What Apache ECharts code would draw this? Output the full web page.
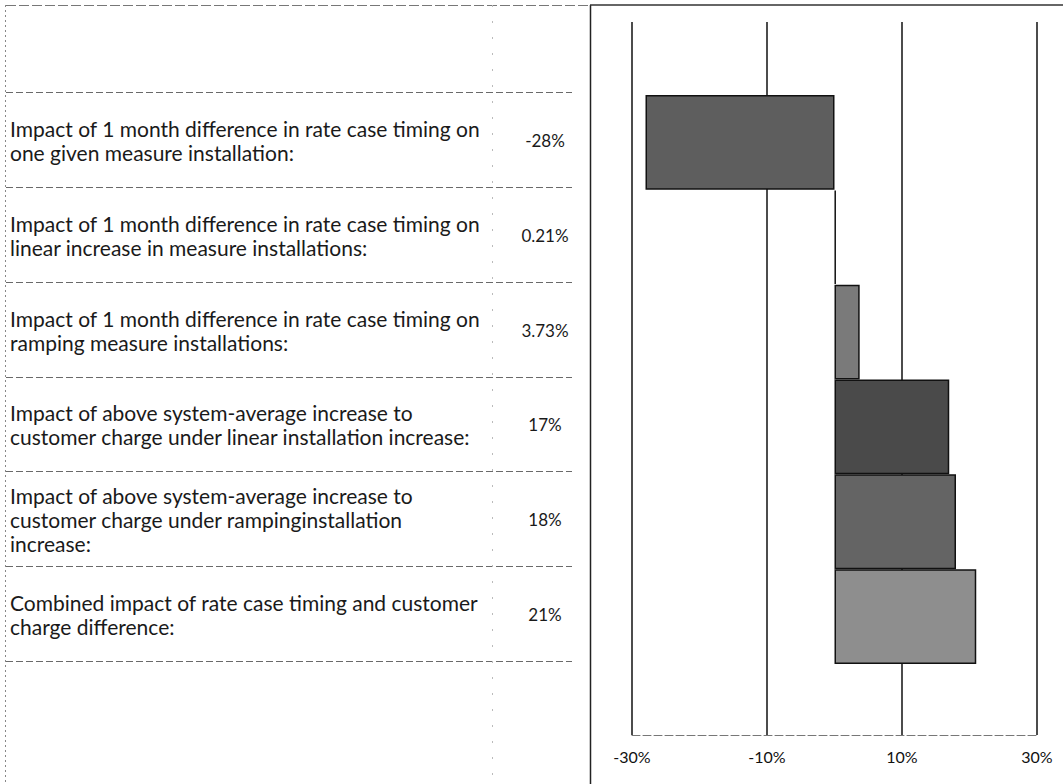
<!DOCTYPE html>
<html>
<head>
<meta charset="utf-8">
<script src="https://cdn.jsdelivr.net/npm/echarts@6/dist/echarts.min.js"></script>
<style>
html,body{margin:0;padding:0;background:#fff;}
#main{width:1063px;height:784px;}
</style>
</head>
<body>
<div id="main"></div>
<script>
// ---- data ----
const categories = [
  'Impact of 1 month difference in rate case timing on\none given measure installation:',
  'Impact of 1 month difference in rate case timing on\nlinear increase in measure installations:',
  'Impact of 1 month difference in rate case timing on\nramping measure installations:',
  'Impact of above system-average increase to\ncustomer charge under linear installation increase:',
  'Impact of above system-average increase to\ncustomer charge under rampinginstallation\nincrease:',
  'Combined impact of rate case timing and customer\ncharge difference:'
];
const valueLabels = ['-28%', '0.21%', '3.73%', '17%', '18%', '21%'];
const values = [-28, 0.21, 3.73, 17, 18, 21];

// ---- style ----
const barColors = ['#5e5e5e', '#6a6a6a', '#7a7a7a', '#4a4a4a', '#646464', '#8e8e8e'];
const FONT = 'Lato';

const chart = echarts.init(document.getElementById('main'), null, {renderer: 'svg'});

const option = {
  animation: false,
  backgroundColor: '#fff',
  grid: [
    {left: 632, right: 26, top: 22, bottom: 49},
    {left: 632, right: 26, top: 95, bottom: 120}
  ],
  xAxis: [
    {
      gridIndex: 0, type: 'value', min: -30, max: 30, interval: 20,
      axisLine: {show: true, lineStyle: {color: '#777', width: 1, type: [8, 3]}},
      axisTick: {show: false},
      axisLabel: {formatter: '{value}%', color: '#111', fontFamily: FONT, fontSize: 16, margin: 13},
      splitLine: {show: true, lineStyle: {color: '#111', width: 1.5}}
    },
    {
      gridIndex: 1, type: 'value', min: -30, max: 30, interval: 20,
      show: false, splitLine: {show: false}
    }
  ],
  yAxis: [
    {gridIndex: 0, type: 'value', show: false, splitLine: {show: false}},
    {gridIndex: 1, type: 'category', data: categories, inverse: true, show: false}
  ],
  series: [{
    type: 'bar',
    xAxisIndex: 1, yAxisIndex: 1,
    barCategoryGap: 0,
    data: values.map((v, i) => ({value: v, itemStyle: {color: barColors[i]}})),
    itemStyle: {borderColor: '#111', borderWidth: 1.5}
  }]
};
chart.setOption(option);

// ---- table built from the category axis positions ----
const centers = categories.map((c, i) => chart.convertToPixel({gridIndex: 1}, [0, i])[1]);
const band = centers.length > 1 ? centers[1] - centers[0] : 95;
const g = [];
const lineH = 24;
categories.forEach((c, i) => {
  const cy = centers[i] - 2;
  const lines = c.split('\n');
  lines.forEach((ln, k) => {
    g.push({type: 'text', x: 10, y: cy + (k - (lines.length - 1) / 2) * lineH,
      style: {text: ln, fill: '#1a1a1a', font: '21px ' + FONT, verticalAlign: 'middle'}});
  });
  g.push({type: 'text', x: 545, y: cy,
    style: {text: valueLabels[i], fill: '#1a1a1a', font: '17px ' + FONT, align: 'center', verticalAlign: 'middle'}});
});
// row separator lines
for (let i = 0; i <= categories.length; i++) {
  const y = Math.round(centers[0] - band / 2 + i * band) - 3 + 0.5;
  g.push({type: 'line', shape: {x1: 6, y1: y, x2: 572, y2: y},
    style: {stroke: '#6a6a6a', lineWidth: 1, lineDash: [7, 3]}});
}
// top line of table
g.push({type: 'line', shape: {x1: 6, y1: 5.5, x2: 590, y2: 5.5}, style: {stroke: '#777', lineWidth: 1, lineDash: [10, 3]}});
// left dotted border
g.push({type: 'line', shape: {x1: 5.5, y1: 5, x2: 5.5, y2: 784}, style: {stroke: '#888', lineWidth: 1, lineDash: [2, 3]}});
// column separator dotted
g.push({type: 'line', shape: {x1: 492.5, y1: 5, x2: 492.5, y2: 784}, style: {stroke: '#bbb', lineWidth: 1, lineDash: [2, 14]}});
// chart frame
g.push({type: 'line', shape: {x1: 590.5, y1: 5, x2: 590.5, y2: 784}, style: {stroke: '#222', lineWidth: 1.5}});
g.push({type: 'line', shape: {x1: 590, y1: 5, x2: 1063, y2: 5}, style: {stroke: '#333', lineWidth: 1.5}});
chart.setOption({graphic: g});
</script>
</body>
</html>
